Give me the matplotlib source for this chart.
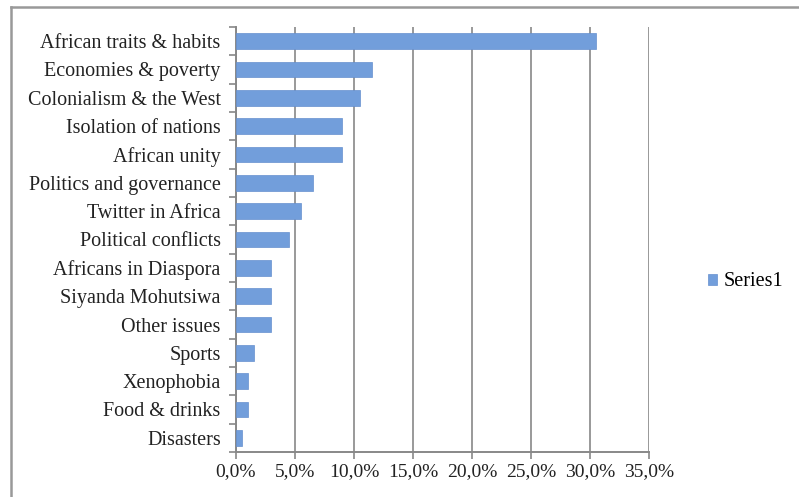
import numpy as np
import matplotlib
matplotlib.use("Agg")
import matplotlib.pyplot as plt
from matplotlib.lines import Line2D
from matplotlib.ticker import FuncFormatter, FixedLocator

# Data (top to bottom as shown)
topics = ["African traits & habits", "Economies & poverty", "Colonialism & the West",
          "Isolation of nations", "African unity", "Politics and governance",
          "Twitter in Africa", "Political conflicts", "Africans in Diaspora",
          "Siyanda Mohutsiwa", "Other issues", "Sports", "Xenophobia",
          "Food & drinks", "Disasters"]
share = [0.305, 0.115, 0.105, 0.09, 0.09, 0.065, 0.055, 0.045, 0.03,
         0.03, 0.03, 0.015, 0.01, 0.01, 0.005]
xticks = [0, 0.05, 0.10, 0.15, 0.20, 0.25, 0.30, 0.35]

plt.rcParams['font.family'] = ['Liberation Serif', 'DejaVu Serif']

fig = plt.figure(figsize=(7.99, 4.97), dpi=100)
ax = fig.add_axes([236/799, 1 - 452/497, (649 - 236)/799, (452 - 27)/497])

y = np.arange(len(topics))[::-1]
ax.barh(y, share, height=0.55, color="#729EDB", edgecolor="#6690CF", linewidth=0.5,
        label="Series1", zorder=3)

ax.set_xlim(0, 0.35)
ax.set_ylim(-0.5, len(topics) - 0.5)
ax.set_xticks(xticks)
ax.xaxis.set_major_formatter(FuncFormatter(lambda v, p: f"{v*100:.1f}%".replace(".", ",")))
ax.set_yticks(y)
ax.set_yticklabels(topics)
ax.yaxis.set_minor_locator(FixedLocator(np.arange(-0.5, len(topics), 1.0)))
ax.tick_params(axis="y", which="major", length=0, pad=11, labelsize=14.5, colors="#222222")
ax.tick_params(axis="y", which="minor", length=5, width=1.2, color="#888888")
ax.tick_params(axis="x", length=5, width=1.2, color="#888888", labelsize=14,
               colors="#222222", pad=3)
ax.grid(axis="x", color="#999999", linewidth=1.4, zorder=0)
for s in ["top", "right"]:
    ax.spines[s].set_visible(False)
for s in ["left", "bottom"]:
    ax.spines[s].set_color("#888888")
    ax.spines[s].set_linewidth(1.4)

ax.legend(loc="center left", bbox_to_anchor=(1.10, 0.40), frameon=False, fontsize=14.5,
          handlelength=0.45, handleheight=0.45, handletextpad=0.3)

# outer chart frame (cropped)
fig.add_artist(Line2D([11/799, 11/799], [0, 1 - 7/497], color="#999999", lw=1.8))
fig.add_artist(Line2D([11/799, 1], [1 - 7/497, 1 - 7/497], color="#999999", lw=1.8))

fig.savefig("out.png", dpi=100)
